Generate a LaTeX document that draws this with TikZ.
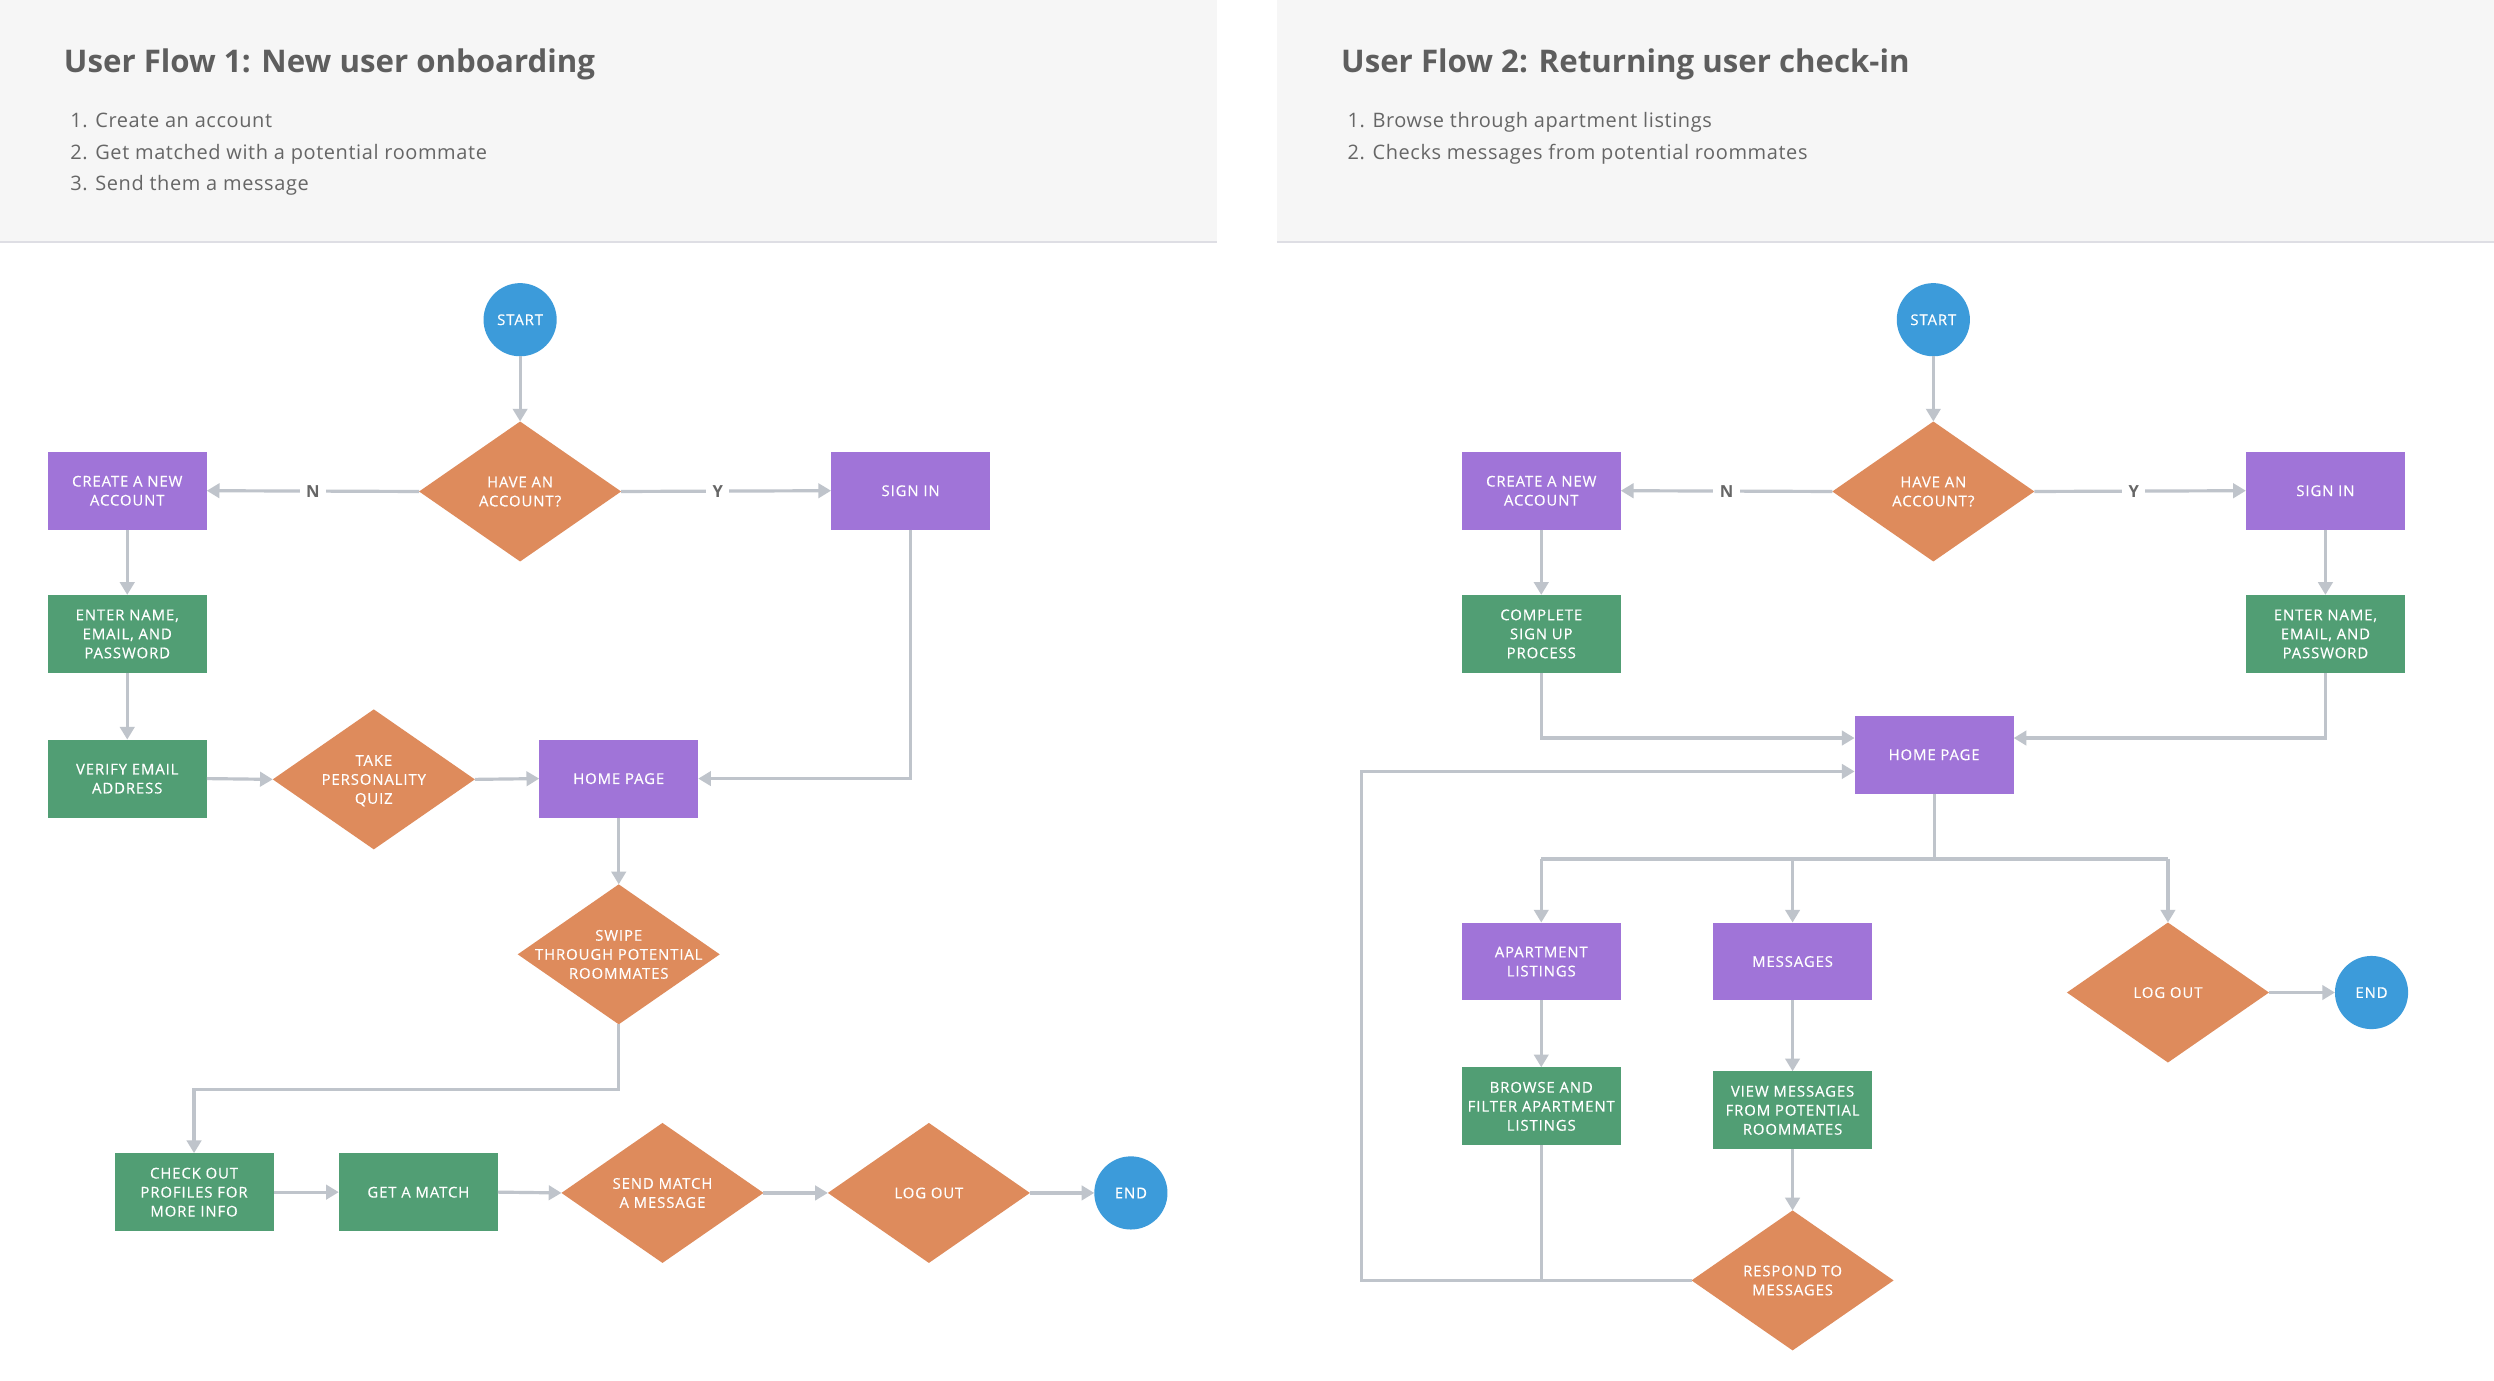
\documentclass[tikz,border=0pt]{standalone}
\usepackage{fontspec}
\setmainfont{Open Sans}
\newfontfamily\nodefont[LetterSpace=6,FakeBold=0.4]{Open Sans}
\newfontfamily\listfont[LetterSpace=3]{Open Sans}
\usetikzlibrary{shapes.geometric,arrows.meta,calc}
\definecolor{purp}{HTML}{A074D8}
\definecolor{grn}{HTML}{519E74}
\definecolor{org}{HTML}{DE8B5C}
\definecolor{blu}{HTML}{3C9BDA}
\definecolor{lin}{HTML}{BFC4CB}
\definecolor{hdr}{HTML}{F6F6F6}
\definecolor{hdrline}{HTML}{DEDEE4}
\definecolor{ttl}{HTML}{5E5E5E}
\definecolor{lst}{HTML}{666666}
\newcommand{\nt}[1]{\makebox[0pt]{\raisebox{-1bp}[\height][\depth]{\begin{tabular}{@{}c@{}}#1\end{tabular}}}}
\begin{document}
\begin{tikzpicture}[x=1bp,y=-1bp,
  base/.style={inner sep=0pt, outer sep=0pt, text=white, font=\nodefont\fontsize{9.4}{12}\selectfont},
  boxp/.style={base, rectangle, fill=purp, minimum width=100bp, minimum height=49bp},
  boxg/.style={base, rectangle, fill=grn, minimum width=100bp, minimum height=49bp},
  dia/.style={base, diamond, fill=org, aspect=1.44, minimum width=127bp, minimum height=88bp},
  circ/.style={base, circle, fill=blu, minimum size=46bp},
  ln/.style={draw=lin, line width=2bp},
  arr/.style={ln, -{Triangle[length=8bp,width=9bp]}},
  lbl/.style={fill=white, text=lst, inner sep=4bp, font=\bfseries\fontsize{10.5}{12}\selectfont},
  ttlt/.style={anchor=base west, text=ttl, inner sep=0pt, font=\bfseries\fontsize{19.7}{22}\selectfont},
  lstt/.style={anchor=base west, text=lst, inner sep=0pt, font=\listfont\fontsize{12.6}{15}\selectfont}
]
\useasboundingbox (0,0) rectangle (1568,868);
\fill[white] (0,0) rectangle (1568,868);
% headers
\fill[hdr] (0,0) rectangle (765,152);
\fill[hdr] (803,0) rectangle (1568,152);
\draw[hdrline, line width=1bp] (0,152) -- (765,152);
\draw[hdrline, line width=1bp] (803,152) -- (1568,152);
\node[ttlt] (t1) at (40,45.5) {User Flow 1: New user onboarding};
\node[lstt] (l11) at (44,80) {1. Create an account};
\node[lstt] (l12) at (44,100) {2. Get matched with a potential roommate};
\node[lstt] (l13) at (44,120) {3. Send them a message};
\node[ttlt] (t2) at (843,45.5) {User Flow 2: Returning user check-in};
\node[lstt] (l21) at (847,80) {1. Browse through apartment listings};
\node[lstt] (l22) at (847,100) {2. Checks messages from potential roommates};

% ---------- Flow 1 ----------
\node[circ] (start1) at (327,201) {\nt{START}};
\node[dia] (dia1) at (327,309) {\nt{HAVE AN\\ACCOUNT?}};
\node[boxp] (create1) at (80,308.5) {\nt{CREATE A NEW\\ACCOUNT}};
\node[boxp] (signin1) at (572.5,308.5) {\nt{SIGN IN}};
\node[boxg] (enter1) at (80,398.5) {\nt{ENTER NAME,\\EMAIL, AND\\PASSWORD}};
\node[boxg] (verify1) at (80,489.5) {\nt{VERIFY EMAIL\\ADDRESS}};
\node[dia] (quiz) at (235,490) {\nt{TAKE\\PERSONALITY\\QUIZ}};
\node[boxp] (home1) at (389,489.5) {\nt{HOME PAGE}};
\node[dia] (swipe) at (389,600) {\nt{SWIPE\\THROUGH POTENTIAL\\ROOMMATES}};
\node[boxg] (check) at (122,749.5) {\nt{CHECK OUT\\PROFILES FOR\\MORE INFO}};
\node[boxg] (match) at (263,749.5) {\nt{GET A MATCH}};
\node[dia] (send) at (416.5,750) {\nt{SEND MATCH\\A MESSAGE}};
\node[dia] (logout1) at (584,750) {\nt{LOG OUT}};
\node[circ] (end1) at (711,750) {\nt{END}};

\draw[arr] (start1) -- (dia1);
\draw[arr] (dia1.west) -- node[lbl, pos=0.5] {N} (create1.east);
\draw[arr] (dia1.east) -- node[lbl, pos=0.46] {Y} (signin1.west);
\draw[arr] (create1) -- (enter1);
\draw[arr] (enter1) -- (verify1);
\draw[arr] (verify1.east) -- (quiz.west);
\draw[arr] (quiz.east) -- (home1.west);
\draw[arr] (signin1.south) |- (home1.east);
\draw[arr] (home1.south) -- (swipe.north);
\draw[arr] (swipe.south) -- ++(0,41) -| (check.north);
\draw[arr] (check) -- (match);
\draw[arr] (match.east) -- (send.west);
\draw[arr] (send.east) -- (logout1.west);
\draw[arr] (logout1.east) -- (end1.west);

% ---------- Flow 2 ----------
\node[circ] (start2) at (1215.5,201) {\nt{START}};
\node[dia] (dia2) at (1215.5,309) {\nt{HAVE AN\\ACCOUNT?}};
\node[boxp] (create2) at (969,308.5) {\nt{CREATE A NEW\\ACCOUNT}};
\node[boxp] (signin2) at (1462,308.5) {\nt{SIGN IN}};
\node[boxg] (complete) at (969,398.5) {\nt{COMPLETE\\SIGN UP\\PROCESS}};
\node[boxg] (enter2) at (1462,398.5) {\nt{ENTER NAME,\\EMAIL, AND\\PASSWORD}};
\node[boxp] (home2) at (1216,474.5) {\nt{HOME PAGE}};
\node[boxp] (apt) at (969,604.5) {\nt{APARTMENT\\LISTINGS}};
\node[boxp] (msgs) at (1127,604.5) {\nt{MESSAGES}};
\node[dia] (logout2) at (1363,624) {\nt{LOG OUT}};
\node[circ] (end2) at (1491,624) {\nt{END}};
\node[boxg] (browse) at (969,695.5) {\nt{BROWSE AND\\FILTER APARTMENT\\LISTINGS}};
\node[boxg] (view) at (1127,698) {\nt{VIEW MESSAGES\\FROM POTENTIAL\\ROOMMATES}};
\node[dia] (respond) at (1127,805) {\nt{RESPOND TO\\MESSAGES}};
\coordinate (loopx) at (856,805);
\coordinate (hb) at (1216,540);

\draw[arr] (start2) -- (dia2);
\draw[arr] (dia2.west) -- node[lbl, pos=0.5] {N} (create2.east);
\draw[arr] (dia2.east) -- node[lbl, pos=0.47] {Y} (signin2.west);
\draw[arr] (create2) -- (complete);
\draw[arr] (signin2) -- (enter2);
\draw[arr] (complete.south) |- ($(home2.west)+(0,-10.5)$);
\draw[arr] (enter2.south) |- ($(home2.east)+(0,-10.5)$);
\draw[arr] (respond.west) -- (loopx) |- ($(home2.west)+(0,10.5)$);
\draw[ln] (browse.south) -- (browse.south |- respond.west);
\draw[ln] (home2.south) -- (hb);
\draw[ln] (apt.north |- hb) -- (logout2.north |- hb);
\draw[arr] (apt.north |- hb) -- (apt.north);
\draw[arr] (msgs.north |- hb) -- (msgs.north);
\draw[arr] (logout2.north |- hb) -- (logout2.north);
\draw[arr] (apt) -- (browse);
\draw[arr] (msgs) -- (view);
\draw[arr] (view.south) -- (respond.north);
\draw[arr] (logout2.east) -- (end2.west);
\end{tikzpicture}
\end{document}
